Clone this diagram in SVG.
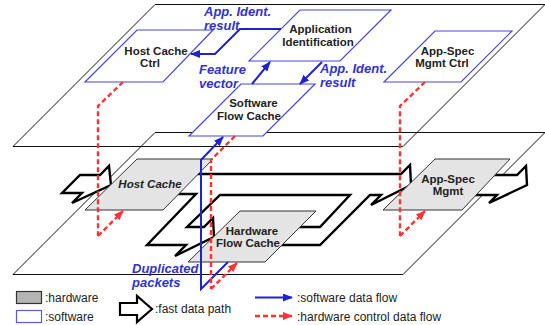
<svg xmlns="http://www.w3.org/2000/svg" width="545" height="325" viewBox="0 0 545 325">
  <style>
    .plane { fill: none; stroke: #111; stroke-width: 1; }
    .sw { fill: #fff; stroke: #4646e0; stroke-width: 1.2; }
    .hw { fill: #e4e4e4; stroke: #333; stroke-width: 1; }
    .fast { fill: #fff; fill-rule: evenodd; stroke: #000; stroke-width: 2.4; stroke-linejoin: miter; }
    .lbl { font-family: "Liberation Sans", Arial, sans-serif; font-size: 11.5px; font-weight: bold; fill: #222; text-anchor: middle; }
    .lbl-i { font-style: italic; }
    .flowlbl { font-family: "Liberation Sans", Arial, sans-serif; font-size: 13px; font-weight: bold; font-style: italic; fill: #3232d2; }
    .swflow { fill: none; stroke: #2121d4; stroke-width: 2; }
    .hwflow { fill: none; stroke: #ff3333; stroke-width: 2.4; stroke-dasharray: 5 3; }
    .legend { font-family: "Liberation Sans", Arial, sans-serif; font-size: 12px; fill: #222; }
  </style>
  <defs>
    <marker id="ahBlue" viewBox="0 0 10 8" refX="9" refY="4" markerWidth="10" markerHeight="8" orient="auto" markerUnits="userSpaceOnUse">
      <path d="M0,0 L10,4 L0,8 Z" fill="#2121d4"/>
    </marker>
    <marker id="ahRed" viewBox="0 0 10 8" refX="9" refY="4" markerWidth="10" markerHeight="8" orient="auto" markerUnits="userSpaceOnUse">
      <path d="M0,0 L10,4 L0,8 Z" fill="#ff3333"/>
    </marker>
  </defs>

  <!-- two layers: software plane on top, hardware plane below -->
  <g id="planes">
    <polygon class="plane" points="155,132.5 545,132.5 403,274.5 13,274.5"/>
    <polygon class="plane" points="155,4.5 545,4.5 403,146.5 13,146.5"/>
  </g>

  <!-- fast data path drawn as a flat block arrow lying on the hardware plane -->
  <g id="fast-path">
    <path class="fast" d="M62,193 L80,175 L100,175 L109,166 L111,185 L72,203 L82,193 Z"/>
    <path class="fast" d="M170,174 L401,174 L410,165 L411,185 L371,205 L381,195 L370,195 L320,245 L282,245 L240,240 L214,237 L175,256 L186,245 L147,245 L196,194 L170,194 Z
                          M220,195 L350,195 L320,227 L260,227 L240,234 L214,237 L213,218 L204,227 L187,227 Z"/>
    <path class="fast" d="M480,175 L517,175 L526,166 L527,185 L489,203 L497,195 L460,195 Z"/>
  </g>

  <!-- hardware nodes -->
  <g id="host-cache">
    <polygon class="hw" points="137,159 213,159 163,210 85,210"/>
    <text class="lbl lbl-i" x="150" y="188">Host Cache</text>
  </g>
  <g id="hw-flow-cache">
    <polygon class="hw" points="240,211 316,211 265,262 188,262"/>
    <text class="lbl" x="252" y="234.5">Hardware</text>
    <text class="lbl" x="248" y="247">Flow Cache</text>
  </g>
  <g id="app-spec-mgmt">
    <polygon class="hw" points="435,159 510,159 462,210 383,210"/>
    <text class="lbl" x="448" y="183">App-Spec</text>
    <text class="lbl" x="448" y="195">Mgmt</text>
  </g>

  <!-- software nodes -->
  <g id="host-cache-ctrl">
    <polygon class="sw" points="137,30 213,30 163,82 85,82"/>
    <text class="lbl" x="156" y="55">Host Cache</text>
    <text class="lbl" x="150" y="67">Ctrl</text>
  </g>
  <g id="app-ident">
    <polygon class="sw" points="300,10 391,10 340,61 249,61"/>
    <text class="lbl" x="320.5" y="33">Application</text>
    <text class="lbl" x="318" y="46">Identification</text>
  </g>
  <g id="sw-flow-cache">
    <polygon class="sw" points="241,84 315,84 263,136 189,136"/>
    <text class="lbl" x="253.5" y="107">Software</text>
    <text class="lbl" x="249" y="119.5">Flow Cache</text>
  </g>
  <g id="app-spec-mgmt-ctrl">
    <polygon class="sw" points="435,31 512,31 461,82 384,82"/>
    <text class="lbl" x="447.5" y="55">App-Spec</text>
    <text class="lbl" x="442" y="67">Mgmt Ctrl</text>
  </g>

  <!-- software and hardware control flows -->
  <g id="connectors">
    <polyline class="swflow" points="281,29 240,29 215,54 191,54" stroke-width="3" marker-end="url(#ahBlue)"/>
    <line class="swflow" x1="252" y1="84" x2="270" y2="62" marker-end="url(#ahBlue)"/>
    <line class="swflow" x1="322" y1="62" x2="300" y2="84" marker-end="url(#ahBlue)"/>
    <polyline class="swflow" points="228,262 201,289 201,160 223,137" marker-end="url(#ahBlue)"/>

    <polyline class="hwflow" points="235,136 211,160 211,289"/>
    <line class="hwflow" x1="211" y1="289" x2="237" y2="263" stroke-width="2" marker-end="url(#ahRed)"/>
    <polyline class="hwflow" points="123,82 98,106 98,236"/>
    <line class="hwflow" x1="98" y1="236" x2="123" y2="211" stroke-width="2" marker-end="url(#ahRed)"/>
    <polyline class="hwflow" points="425,82 400,106 400,236"/>
    <line class="hwflow" x1="400" y1="236" x2="425" y2="211" stroke-width="2" marker-end="url(#ahRed)"/>

    <text class="flowlbl" x="204" y="15.5">App. Ident.</text>
    <text class="flowlbl" x="204" y="29.5">result</text>
    <text class="flowlbl" x="199" y="73.5">Feature</text>
    <text class="flowlbl" x="199" y="87.5">vector</text>
    <text class="flowlbl" x="320" y="73">App. Ident.</text>
    <text class="flowlbl" x="320" y="87">result</text>
    <text class="flowlbl" x="132" y="272.5">Duplicated</text>
    <text class="flowlbl" x="132" y="286.5">packets</text>
  </g>

  <!-- legend -->
  <g id="legend">
    <rect x="16.5" y="291.5" width="25" height="12" fill="#b4b4b4" stroke="#333" stroke-width="1.2"/>
    <text class="legend" x="45" y="301.5">:hardware</text>
    <rect x="16.5" y="310.5" width="25" height="12" fill="#fff" stroke="#5a5ae6" stroke-width="1.2"/>
    <text class="legend" x="45" y="320.5">:software</text>
    <polygon points="120,303 137,303 137,296 152,309 137,322 137,315 120,315" fill="#fff" stroke="#000" stroke-width="2.2"/>
    <text class="legend" x="155" y="312.5">:fast data path</text>
    <line class="swflow" x1="255" y1="297.5" x2="292" y2="297.5" marker-end="url(#ahBlue)"/>
    <text class="legend" x="297" y="301.5">:software data flow</text>
    <line class="hwflow" x1="255" y1="316" x2="292" y2="316" marker-end="url(#ahRed)"/>
    <text class="legend" x="297" y="320.5">:hardware control data flow</text>
  </g>
</svg>
